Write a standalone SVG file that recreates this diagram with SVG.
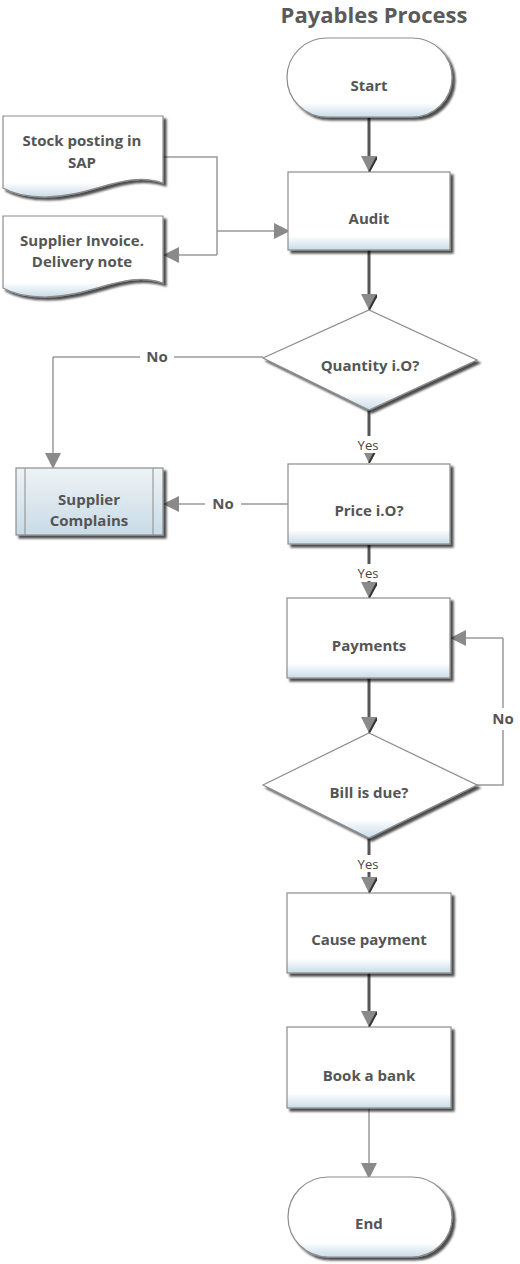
<svg xmlns="http://www.w3.org/2000/svg" width="520" height="1264" viewBox="0 0 520 1264">
<defs>
<style>
.t{font-family:"Open Sans","Liberation Sans",sans-serif;font-weight:bold;font-size:15px;fill:#555;text-anchor:middle}
.title{font-family:"Open Sans","Liberation Sans",sans-serif;font-weight:bold;font-size:22px;fill:#5a5a5a;text-anchor:middle}
.yes{font-family:"Open Sans","Liberation Sans",sans-serif;font-size:13px;fill:#444;text-anchor:middle}
.no{font-family:"Open Sans","Liberation Sans",sans-serif;font-weight:bold;font-size:15px;fill:#555;text-anchor:middle}
.shape{fill:url(#g);stroke:#8c8c8c;stroke-width:1.2;filter:url(#sh)}
.thick{fill:none;stroke:#555;stroke-width:3;marker-end:url(#ad)}
.thin{fill:none;stroke:#9a9a9a;stroke-width:1.5}
.thinA{fill:none;stroke:#9a9a9a;stroke-width:1.5;marker-end:url(#al)}
</style>
<linearGradient id="g" x1="0" y1="0" x2="0" y2="1">
<stop offset="0" stop-color="#fff"/>
<stop offset="0.82" stop-color="#fff"/>
<stop offset="1" stop-color="#c9dce8"/>
</linearGradient>
<linearGradient id="g2" x1="0" y1="0" x2="0" y2="1">
<stop offset="0" stop-color="#eef3f6"/>
<stop offset="1" stop-color="#c9dbe6"/>
</linearGradient>
<filter id="sh" x="-10%" y="-10%" width="130%" height="130%">
<feDropShadow dx="3" dy="3" stdDeviation="1.3" flood-color="#000" flood-opacity="0.7"/>
</filter>
<marker id="ad" viewBox="0 0 16 16" refX="10" refY="8" markerWidth="16" markerHeight="16" markerUnits="userSpaceOnUse" orient="auto">
<path d="M0,0 L16,8 L0,16 Z" fill="#8a8a8a"/>
<path d="M1,0 L16,8" stroke="#333" stroke-width="2" fill="none"/>
</marker>
<marker id="al" viewBox="0 0 16 16" refX="14" refY="8" markerWidth="16" markerHeight="16" markerUnits="userSpaceOnUse" orient="auto">
<path d="M0,0 L16,8 L0,16 Z" fill="#8a8a8a"/>
</marker>
</defs>
<rect width="520" height="1264" fill="#fff"/>
<text class="title" x="374" y="23">Payables Process</text>

<g id="connectors">
<path class="thick" d="M369,118 V166"/>
<path class="thin" d="M163,157 H217 V255"/>
<path class="thinA" d="M217,255 H165"/>
<path class="thinA" d="M217,231 H288"/>
<path class="thick" d="M369,250 V304"/>
<path class="thin" d="M263,357 H53"/>
<path class="thinA" d="M53,357 V467"/>
<path class="thick" d="M369,410 V457"/>
<path class="thinA" d="M288,504 H165"/>
<path class="thick" d="M369,545 V592"/>
<path class="thick" d="M369,678 V727"/>
<path class="thin" d="M477,785 H503 V638"/>
<path class="thinA" d="M503,638 H452"/>
<path class="thick" d="M369,838 V887"/>
<path class="thick" d="M369,973 V1021"/>
<path class="thinA" d="M369,1108 V1177"/>
<rect x="140" y="347" width="34" height="20" fill="#fff"/>
<text class="no" x="157" y="362">No</text>
<rect x="205" y="494" width="36" height="20" fill="#fff"/>
<text class="no" x="223" y="509">No</text>
<rect x="490" y="708" width="26" height="22" fill="#fff"/>
<text class="no" x="503" y="724">No</text>
<rect x="355" y="436" width="28" height="17" fill="#fff"/>
<text class="yes" x="368" y="450">Yes</text>
<rect x="355" y="564" width="28" height="17" fill="#fff"/>
<text class="yes" x="368" y="578">Yes</text>
<rect x="355" y="855" width="28" height="17" fill="#fff"/>
<text class="yes" x="368" y="869">Yes</text>
</g>

<g id="start">
<rect class="shape" x="287" y="38" width="165" height="79" rx="39.5"/>
<text class="t" x="369" y="91">Start</text>
</g>
<g id="stock">
<path class="shape" d="M3,116 H163 V183 C125,170 95,196 45,197 C25,197 12,193 3,188 Z"/>
<text class="t" x="82" y="146">Stock posting in</text>
<text class="t" x="82" y="168">SAP</text>
</g>
<g id="invoice">
<path class="shape" d="M3,216 H163 V283 C125,270 95,296 45,297 C25,297 12,293 3,288 Z"/>
<text class="t" x="82" y="246">Supplier Invoice.</text>
<text class="t" x="82" y="267">Delivery note</text>
</g>
<g id="audit">
<rect class="shape" x="288" y="172" width="162" height="78"/>
<text class="t" x="369" y="224">Audit</text>
</g>
<g id="quantity">
<path class="shape" d="M369,310 L477,360 L369,410 L263,358 Z"/>
<text class="t" x="370" y="371">Quantity i.O?</text>
</g>
<g id="complains">
<rect x="16" y="468" width="147" height="67" fill="url(#g2)" stroke="#8c8c8c" stroke-width="1.2" filter="url(#sh)"/>
<line x1="25" y1="468" x2="25" y2="535" stroke="#8c8c8c" stroke-width="1"/>
<line x1="153" y1="468" x2="153" y2="535" stroke="#8c8c8c" stroke-width="1"/>
<text class="t" x="89" y="505">Supplier</text>
<text class="t" x="89" y="526">Complains</text>
</g>
<g id="price">
<rect class="shape" x="288" y="464" width="162" height="80"/>
<text class="t" x="369" y="516">Price i.O?</text>
</g>
<g id="payments">
<rect class="shape" x="287" y="598" width="163" height="80"/>
<text class="t" x="369" y="651">Payments</text>
</g>
<g id="bill">
<path class="shape" d="M369,733 L477,785 L369,838 L263,785 Z"/>
<text class="t" x="369" y="798">Bill is due?</text>
</g>
<g id="cause">
<rect class="shape" x="287" y="893" width="164" height="80"/>
<text class="t" x="369" y="945">Cause payment</text>
</g>
<g id="book">
<rect class="shape" x="287" y="1027" width="164" height="81"/>
<text class="t" x="369" y="1081">Book a bank</text>
</g>
<g id="end">
<rect class="shape" x="288" y="1177" width="164" height="80" rx="40"/>
<text class="t" x="369" y="1229">End</text>
</g>
</svg>
